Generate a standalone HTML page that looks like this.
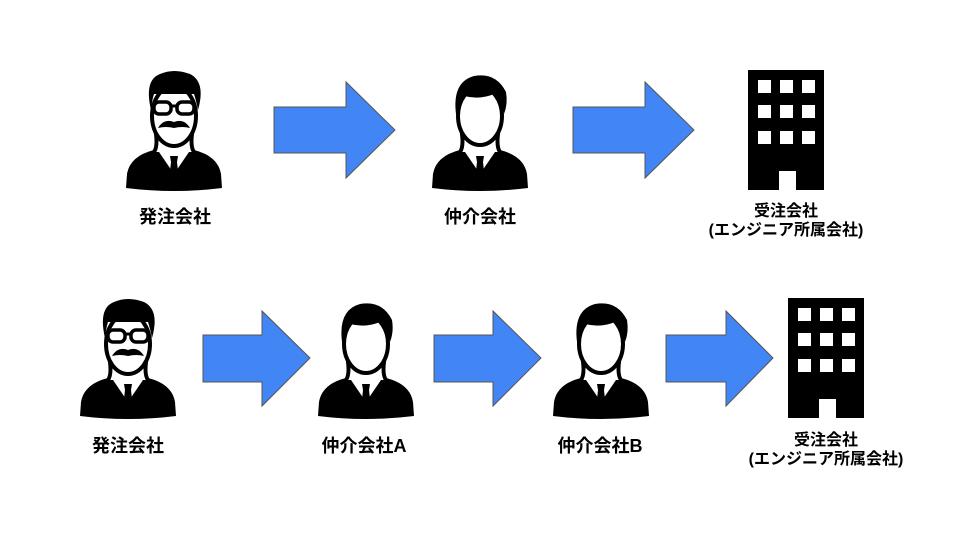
<!DOCTYPE html>
<html><head><meta charset="utf-8"><style>
html,body{margin:0;padding:0;background:#fff;}
svg{display:block}
text{font-family:"Liberation Sans","Noto Sans CJK JP",sans-serif;font-weight:bold;font-size:18px;fill:#000;text-anchor:middle}
</style></head><body>
<svg width="960" height="540" viewBox="0 0 960 540" xmlns="http://www.w3.org/2000/svg">
<defs>
<g id="body">
  <path d="M0,118 L1,104 Q4,86 28,80 L68,80 Q92,86 95,104 L96,118 Q48,124 0,118 Z" fill="#000"/>
  <path d="M30,64 Q32,80 26,84 L70,84 Q64,80 66,64 Z" fill="#fff" stroke="#000" stroke-width="4"/>
  <polygon points="33,82 48,104 63,82" fill="#fff"/>
  <polygon points="44,86 52,86 51,92 53,110 48,116 43,110 45,92" fill="#000"/>
</g>
<g id="man">
  <use href="#body"/>
  <ellipse cx="48" cy="46" rx="22" ry="29" fill="#fff" stroke="#000" stroke-width="4"/>
  <path d="M24,44 Q20,12 42,6 Q64,2 74,22 Q76,34 72,44 Q70,30 62,24 Q48,30 32,26 Q27,34 26,44 Z" fill="#000"/>
</g>
<g id="boss">
  <use href="#body"/>
  <ellipse cx="48" cy="46" rx="22" ry="30" fill="#fff" stroke="#000" stroke-width="4"/>
  <path d="M25,40 Q18,10 34,4 Q48,-2 64,4 Q80,12 72,40 Q70,30 68,24 L28,24 Q26,30 25,40 Z" fill="#000"/>
  <rect x="28" y="32" width="17" height="12" rx="5" fill="#fff" stroke="#000" stroke-width="3.5"/>
  <rect x="51" y="32" width="17" height="12" rx="5" fill="#fff" stroke="#000" stroke-width="3.5"/>
  <line x1="45" y1="36" x2="51" y2="36" stroke="#000" stroke-width="3"/>
  <path d="M32,58 Q38,48 48,52 Q58,48 64,58 Q56,56 48,58 Q40,56 32,58 Z" fill="#000"/>
</g>
<g id="bld">
  <rect x="0" y="0" width="76" height="120" fill="#000"/>
  <rect x="10" y="10" width="13" height="13" fill="#fff"/><rect x="32" y="10" width="13" height="13" fill="#fff"/><rect x="54" y="10" width="13" height="13" fill="#fff"/>
  <rect x="10" y="35" width="13" height="13" fill="#fff"/><rect x="32" y="35" width="13" height="13" fill="#fff"/><rect x="54" y="35" width="13" height="13" fill="#fff"/>
  <rect x="10" y="61" width="13" height="13" fill="#fff"/><rect x="32" y="61" width="13" height="13" fill="#fff"/><rect x="54" y="61" width="13" height="13" fill="#fff"/>
  <rect x="31" y="101" width="17" height="19" fill="#fff"/>
</g>
</defs>

<use href="#boss" transform="translate(126,70)"/>
<polygon points="274,107 346,107 346,82 395,130 346,178 346,153 274,153" fill="#4285f4" stroke="#555" stroke-width="1"/>
<use href="#man" transform="translate(432,70)"/>
<polygon points="573,107 645,107 645,82 694,130 645,178 645,153 573,153" fill="#4285f4" stroke="#555" stroke-width="1"/>
<use href="#bld" transform="translate(748,70)"/>
<text x="175" y="223">発注会社</text>
<text x="480" y="223">仲介会社</text>
<text x="786" y="216" style="font-size:16px">受注会社</text>
<text x="786" y="235" style="font-size:16px">(エンジニア所属会社)</text>

<use href="#boss" transform="translate(80,298)"/>
<polygon points="203,335 262,335 262,311 310,358 262,406 262,382 203,382" fill="#4285f4" stroke="#555" stroke-width="1"/>
<use href="#man" transform="translate(318,298)"/>
<polygon points="434,335 493,335 493,311 541,358 493,406 493,382 434,382" fill="#4285f4" stroke="#555" stroke-width="1"/>
<use href="#man" transform="translate(553,298)"/>
<polygon points="666,335 726,335 726,311 773,358 726,406 726,382 666,382" fill="#4285f4" stroke="#555" stroke-width="1"/>
<use href="#bld" transform="translate(788,298)"/>
<text x="128" y="452">発注会社</text>
<text x="364" y="452">仲介会社A</text>
<text x="600" y="452">仲介会社B</text>
<text x="826" y="445" style="font-size:16px">受注会社</text>
<text x="826" y="464" style="font-size:16px">(エンジニア所属会社)</text>
</svg>
</body></html>
